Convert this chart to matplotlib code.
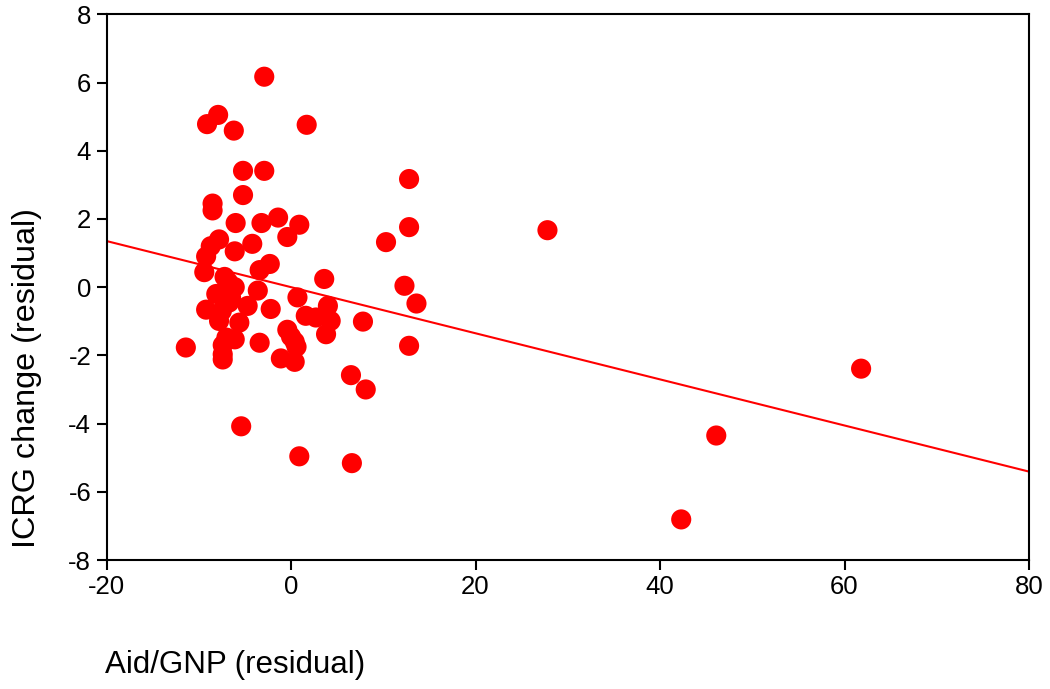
import matplotlib
matplotlib.use("Agg")
import matplotlib.pyplot as plt
import numpy as np

plt.rcParams['font.family'] = ['Liberation Sans', 'DejaVu Sans']
plt.rcParams['axes.unicode_minus'] = False

# Data (Aid/GNP residual vs ICRG change residual)
aid_gnp = [
    -2.9, -7.9, -9.1, -6.2, 1.7, -5.2, -2.9, 12.8, -5.2, -8.5,
    -8.5, -6.0, -3.2, -1.4, 0.9, -0.4, 12.8, 10.3, 27.8, -7.8,
    -8.7, -6.1, -4.2, -9.2, -9.4, -7.2, -2.3, -3.4, 3.6, 12.3,
    13.6, -8.1, -6.1, -3.6, 0.7, -9.2, -6.7, -4.7, -2.2, -7.8,
    -5.6, 1.6, 2.7, 4.0, 4.3, 7.8, -0.4, 3.8, -7.0, -3.4,
    0.4, -11.4, -7.4, -7.4, -1.1, 0.4, -6.1, 12.8, 6.5, 8.1,
    -5.4, 0.9, 6.6, 61.8, 46.1, 42.3, -7.0, -6.5, -7.5, -6.8,
    -7.4, 0.0, 0.6,
]
icrg_change = [
    6.17, 5.05, 4.78, 4.59, 4.76, 3.41, 3.41, 3.17, 2.70, 2.45,
    2.25, 1.88, 1.88, 2.04, 1.83, 1.47, 1.76, 1.32, 1.67, 1.40,
    1.20, 1.05, 1.27, 0.90, 0.44, 0.30, 0.68, 0.50, 0.24, 0.04,
    -0.48, -0.20, 0.00, -0.10, -0.30, -0.66, -0.45, -0.55, -0.64, -0.99,
    -1.04, -0.84, -0.89, -0.55, -0.99, -1.01, -1.25, -1.38, -1.48, -1.63,
    -1.60, -1.77, -1.97, -2.12, -2.09, -2.19, -1.53, -1.72, -2.58, -3.00,
    -4.08, -4.96, -5.16, -2.39, -4.35, -6.81, -0.10, -0.30, -0.70, 0.15,
    -1.70, -1.45, -1.75,
]

# Fitted regression line
fit_intercept = 0.0
fit_slope = -0.0676

x_ticks = [-20, 0, 20, 40, 60, 80]
y_ticks = [-8, -6, -4, -2, 0, 2, 4, 6, 8]

fig = plt.figure(figsize=(10.5, 6.89), dpi=100)
ax = fig.add_axes([106.5 / 1050, 1 - 560 / 689, (1029 - 106.5) / 1050, (560 - 14.3) / 689])

ax.scatter(aid_gnp, icrg_change, s=210, color='#ff0000', edgecolors='none', zorder=3)

xl = np.array([-20, 80])
ax.plot(xl, fit_intercept + fit_slope * xl, color='#ff0000', lw=1.5, zorder=2)

ax.set_xlim(-20, 80)
ax.set_ylim(-8, 8)
ax.set_xticks(x_ticks)
ax.set_yticks(y_ticks)
ax.tick_params(axis='both', direction='out', length=7, width=1.5, labelsize=18.5, pad=4, colors='black')
for sp in ax.spines.values():
    sp.set_linewidth(1.5)
    sp.set_color('black')

fig.text(105 / 1050, 1 - 665 / 689, 'Aid/GNP (residual)', fontsize=22.5, ha='left', va='center')
fig.text(27 / 1050, 1 - 548 / 689, 'ICRG change (residual)', fontsize=23.3, rotation=90,
         ha='center', va='bottom')

fig.savefig('out.png', dpi=100)
